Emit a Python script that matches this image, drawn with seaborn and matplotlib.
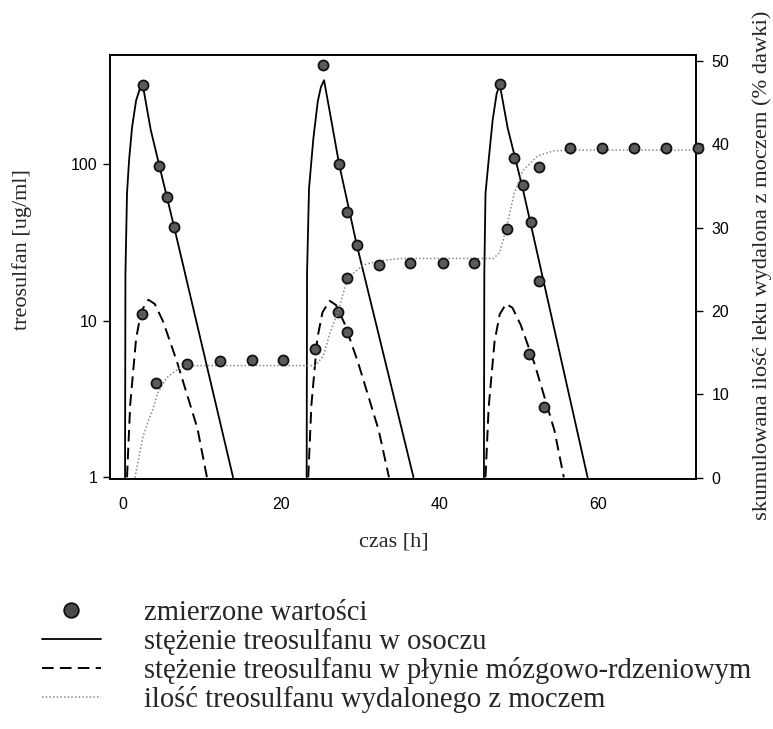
import matplotlib
matplotlib.use("Agg")
import matplotlib.pyplot as plt
from matplotlib.lines import Line2D
from matplotlib.ticker import NullLocator, FixedLocator
import seaborn as sns

# --- model curves: plasma concentration (ug/ml), one segment per dose ---
plasma_t1 = [0.25, 0.3, 0.5, 0.76, 1.14, 1.65, 2.1, 2.5, 3.5, 6.45, 13.9]
plasma_c1 = [1, 20, 65, 106, 172, 255, 300, 318, 165, 39.7, 1]
plasma_t2 = [23.2, 23.25, 23.5, 24.05, 24.6, 25.0, 25.4, 26.4, 27.3, 29.5, 36.7]
plasma_c2 = [1, 20, 70, 146, 250, 310, 343, 180, 100, 31, 1]
plasma_t3 = [45.6, 45.65, 45.8, 46.2, 46.7, 47.2, 47.6, 48.6, 50.5, 58.7]
plasma_c3 = [1, 20, 65, 106, 190, 280, 323, 170, 70, 1]

# --- model curves: cerebrospinal fluid concentration (ug/ml) ---
csf_t1 = [0.5, 0.9, 1.65, 2.3, 3.2, 4.0, 5.05, 6.8, 9.4, 10.6]
csf_c1 = [1, 2.9, 7.7, 11.5, 13.6, 12.8, 9.9, 5.5, 2.05, 1]
csf_t2 = [23.4, 23.8, 24.55, 25.2, 26.1, 26.9, 27.95, 29.7, 32.3, 33.6]
csf_c2 = [1, 2.9, 7.7, 11.3, 13.4, 12.6, 9.7, 5.4, 2.0, 1]
csf_t3 = [45.8, 46.2, 46.95, 47.6, 48.4, 49.2, 50.25, 52.0, 54.5, 55.7]
csf_c3 = [1, 2.8, 7.4, 11.0, 12.8, 12.1, 9.4, 5.3, 2.0, 1]

# --- model curve: cumulative urinary excretion (% of dose) ---
urine_t = [1.5, 2.5, 3.2, 3.8, 4.4, 5.5, 7.2, 9.0, 24.3,
           25.3, 26.2, 27.2, 28.35, 30.3, 32.3, 35.0, 46.8,
           47.6, 48.5, 49.4, 50.5, 52.4, 54.4, 57.0, 72.5]
urine_pct = [0, 4.9, 6.8, 8.3, 10.2, 12.0, 13.2, 13.45, 13.45,
             14.6, 17.5, 20.0, 23.9, 25.5, 26.0, 26.3, 26.3,
             27.0, 30.2, 34.0, 36.8, 38.6, 39.2, 39.3, 39.3]

# --- measured values ---
meas_plasma_t = [2.5, 4.5, 5.5, 6.45, 25.3, 27.3, 28.35, 29.5,
                 47.6, 49.4, 50.5, 51.5, 52.5]
meas_plasma_c = [318, 97, 61.6, 39.7, 428, 100, 49.5, 30.5,
                 323, 109, 73.6, 42.7, 18]
meas_csf_t = [2.4, 24.2, 27.2, 28.35, 51.3, 53.2]
meas_csf_c = [11.1, 6.6, 11.4, 8.5, 6.1, 2.8]
meas_urine_t = [4.2, 8.1, 12.2, 16.3, 20.2, 28.35, 32.3, 36.3, 40.4, 44.4,
                48.5, 52.5, 56.5, 60.5, 64.6, 68.6, 72.6]
meas_urine_pct = [11.4, 13.6, 14.0, 14.1, 14.1, 23.9, 25.5, 25.8, 25.8, 25.8,
                  29.8, 37.3, 39.5, 39.6, 39.6, 39.6, 39.5]

x_ticks = [0, 20, 40, 60]
left_ticks = [1, 10, 100]
right_ticks = [0, 10, 20, 30, 40, 50]

legend_labels = ["zmierzone wartości",
                 "stężenie treosulfanu w osoczu",
                 "stężenie treosulfanu w płynie mózgowo-rdzeniowym",
                 "ilość treosulfanu wydalonego z moczem"]

sns.set_style("white")
plt.rcParams["font.family"] = ["Liberation Sans", "DejaVu Sans"]
serif = ["Liberation Serif", "DejaVu Serif"]

fig = plt.figure(figsize=(7.73, 7.29), dpi=100)
ax = fig.add_axes([110 / 773, 1 - 479 / 729, 586 / 773, 424 / 729])
ax2 = ax.twinx()

solid_kw = dict(color="black", lw=1.3)
dash_kw = dict(color="black", lw=1.4, linestyle=(0, (6, 3.2)))
dot_kw = dict(color="#8a8a8a", lw=1.1, linestyle=(0, (1, 1.4)))
pt_kw = dict(s=52, color="#5a5a5a", edgecolor="#111111", linewidth=1.3,
             zorder=6, clip_on=False, legend=False)

for t, c in [(plasma_t1, plasma_c1), (plasma_t2, plasma_c2), (plasma_t3, plasma_c3)]:
    sns.lineplot(x=t, y=c, ax=ax, sort=False, estimator=None, **solid_kw)
for t, c in [(csf_t1, csf_c1), (csf_t2, csf_c2), (csf_t3, csf_c3)]:
    sns.lineplot(x=t, y=c, ax=ax, sort=False, estimator=None, **dash_kw)
sns.scatterplot(x=meas_plasma_t, y=meas_plasma_c, ax=ax, **pt_kw)
sns.scatterplot(x=meas_csf_t, y=meas_csf_c, ax=ax, **pt_kw)

sns.lineplot(x=urine_t, y=urine_pct, ax=ax2, sort=False, estimator=None, **dot_kw)
sns.scatterplot(x=meas_urine_t, y=meas_urine_pct, ax=ax2, **pt_kw)

ax.set_yscale("log")
ax.set_xlim(-1.65, 72.4)
ax.set_ylim(0.975, 497)
ax2.set_ylim(-0.15, 50.7)

ax.xaxis.set_major_locator(FixedLocator(x_ticks))
ax.yaxis.set_major_locator(FixedLocator(left_ticks))
ax.yaxis.set_minor_locator(NullLocator())
ax.set_yticklabels([str(v) for v in left_ticks])
ax2.yaxis.set_major_locator(FixedLocator(right_ticks))

for a in (ax, ax2):
    a.tick_params(direction="out", length=5, width=1, labelsize=11.5, colors="black")
    for sp in a.spines.values():
        sp.set_color("black")
        sp.set_linewidth(1.2)
        sp.set_visible(True)
ax.tick_params(axis="x", pad=8)
ax.tick_params(axis="y", pad=4)
ax2.tick_params(axis="y", pad=6)

ax.set_xlabel("czas [h]", family=serif, fontsize=16)
ax.xaxis.set_label_coords(0.484, -0.125)
ax.set_ylabel("treosulfan [ug/ml]", family=serif, fontsize=16)
ax.yaxis.set_label_coords(-0.133, 0.540)
ax2.set_ylabel("skumulowana ilość leku wydalona z moczem (% dawki)",
               family=serif, fontsize=16.2)
ax2.yaxis.set_label_coords(1.096, 0.505)

handles = [
    Line2D([], [], ls="none", marker="o", markersize=10.5, markerfacecolor="#4a4a4a",
           markeredgecolor="#111111", markeredgewidth=1.3),
    Line2D([], [], **solid_kw),
    Line2D([], [], **dash_kw),
    Line2D([], [], **dot_kw),
]
fig.legend(handles, legend_labels, loc="upper left",
           bbox_to_anchor=(42 / 773, 1 - 600 / 729), frameon=False,
           prop={"family": serif, "size": 20.6}, handlelength=2.05,
           handletextpad=1.53, labelspacing=0.07, borderpad=0, borderaxespad=0)

fig.savefig("out.png", dpi=100)
